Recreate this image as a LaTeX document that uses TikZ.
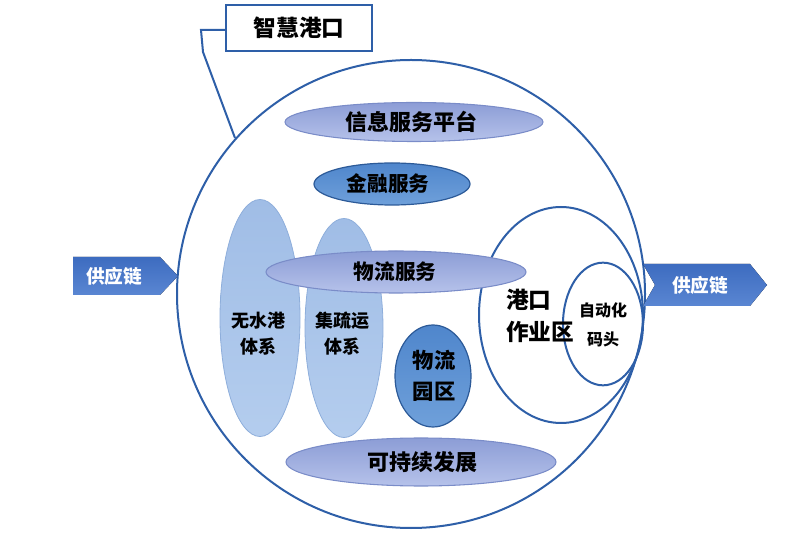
\documentclass[tikz,border=0pt]{standalone}
\usepackage{fontspec}
\newfontfamily\cjk{Noto Sans CJK SC}
\usetikzlibrary{shapes.geometric}
\definecolor{lineblue}{HTML}{2E5FA8}
\definecolor{lavtop}{HTML}{8C9DD6}
\definecolor{lavbot}{HTML}{B6C2EA}
\definecolor{lavedge}{HTML}{7A8CC8}
\definecolor{midtop}{HTML}{4F86CC}
\definecolor{midbot}{HTML}{6FA0DA}
\definecolor{midedge}{HTML}{2C5A98}
\definecolor{lighttop}{HTML}{A0BDE6}
\definecolor{lightbot}{HTML}{B4CDEE}
\definecolor{lightedge}{HTML}{8EAEDB}
\definecolor{arrtop}{HTML}{3D6CC0}
\definecolor{arrbot}{HTML}{5A86D2}
\tikzset{
  lav/.style={ellipse, draw=lavedge, line width=0.8pt, top color=lavtop, bottom color=lavbot, inner sep=0pt},
  midb/.style={ellipse, draw=midedge, line width=0.9pt, top color=midtop, bottom color=midbot, inner sep=0pt},
  lightb/.style={ellipse, draw=lightedge, line width=0.6pt, top color=lighttop, bottom color=lightbot, inner sep=0pt},
  ring/.style={ellipse, draw=lineblue, line width=1.5pt, inner sep=0pt},
  lbl/.style={font=\cjk\bfseries, text=black, align=center, inner sep=0pt},
  arrowshape/.style={draw=none, top color=arrtop, bottom color=arrbot},
  arrtext/.style={font=\cjk\bfseries\fontsize{14}{16}\selectfont, text=white, inner sep=0pt}
}
\begin{document}
\begin{tikzpicture}[x=0.75pt, y=-0.75pt]
\useasboundingbox (0,0) rectangle (800,534);
% big circle
\node[circle, draw=lineblue, line width=1.5pt, minimum size=351pt, inner sep=0pt] (big) at (411,294) {};
% port area rings
\node[ring, minimum width=123pt, minimum height=162pt] (port) at (561,315) {};
\node[ring, minimum width=60pt, minimum height=92pt] (auto) at (603,324) {};
% tall ellipses
\node[lightb, minimum width=60pt, minimum height=177.75pt] (wsg) at (260,318) {};
\node[lightb, minimum width=58.5pt, minimum height=164.25pt] (jsy) at (344,328) {};
% horizontal ellipses
\node[lav, minimum width=193.5pt, minimum height=29.25pt] (info) at (414,122) {};
\node[midb, minimum width=117pt, minimum height=31.5pt] (fin) at (392,184) {};
\node[lav, minimum width=195pt, minimum height=31.5pt] (log) at (396,272) {};
\node[midb, minimum width=57pt, minimum height=76.5pt] (park) at (433,376) {};
\node[lav, minimum width=202.5pt, minimum height=36pt] (sus) at (421,462) {};
% labels
\node[lbl, font=\cjk\bfseries\fontsize{16.5}{19}\selectfont] (tinfo) at (411,122) {信息服务平台};
\node[lbl, font=\cjk\bfseries\fontsize{15.5}{18}\selectfont] (tfin) at (388,184) {金融服务};
\node[lbl, font=\cjk\bfseries\fontsize{15.5}{18}\selectfont] (tlog) at (395,272) {物流服务};
\node[lbl, font=\cjk\bfseries\fontsize{13.5}{19.5}\selectfont] (twsg) at (258,334) {无水港\\体系};
\node[lbl, font=\cjk\bfseries\fontsize{13.5}{19.5}\selectfont] (tjsy) at (342,334) {集疏运\\体系};
\node[lbl, font=\cjk\bfseries\fontsize{16}{23}\selectfont] (tpark) at (434,376) {物流\\园区};
\node[lbl, font=\cjk\bfseries\fontsize{16.5}{19}\selectfont] (tsus) at (422,462) {可持续发展};
\node[lbl, font=\cjk\bfseries\fontsize{17}{23.5}\selectfont, align=left, anchor=west] (tport) at (506,316) {港口\\作业区};
\node[lbl, font=\cjk\bfseries\fontsize{12}{22}\selectfont] (tauto) at (603,325) {自动化\\码头};
% callout
\node[draw=lineblue, line width=1.5pt, fill=white, minimum width=109.5pt, minimum height=34.5pt, inner sep=0pt, font=\cjk\bfseries\fontsize{17}{20}\selectfont] (title) at (299,28) {智慧港口};
\coordinate (c1) at (201,30);
\coordinate (c2) at (203,52);
\coordinate (c3) at (235,138);
\draw[lineblue, line width=1.5pt] (title.west |- c1) -- (c1) -- (c2) -- (c3);
% supply chain arrows
\fill[arrowshape] (73,257) -- (160,257) -- (178,276) -- (160,295) -- (73,295) -- cycle;
\node[arrtext] (scl) at (114,276) {供应链};
\fill[arrowshape] (643,264) -- (750,264) -- (767,285) -- (750,306) -- (643,306) -- (655,285) -- cycle;
\node[arrtext] (scr) at (700,285) {供应链};
\end{tikzpicture}
\end{document}
